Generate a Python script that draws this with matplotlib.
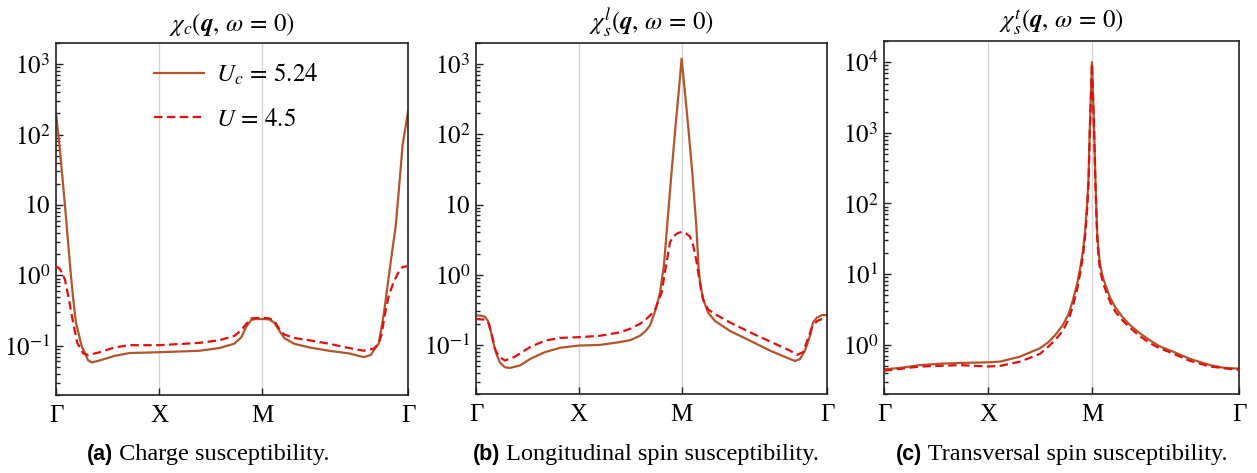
import numpy as np
import matplotlib
matplotlib.use("Agg")
import matplotlib.pyplot as plt
from matplotlib.ticker import FixedLocator, FixedFormatter, LogLocator, NullFormatter

# ---------------- data ----------------
path_labels = ["Γ", "X", "M", "Γ"]
path_ticks = [0.0, 1.0, 2.0, 2.0 + np.sqrt(2.0)]

# (a) charge susceptibility
k_c_Uc = [0.0, 0.039, 0.087, 0.142, 0.167, 0.193, 0.248, 0.312, 0.348, 0.425, 0.570, 0.715,
          1.0, 1.391, 1.585, 1.729, 1.797, 1.845, 1.894, 1.942, 2.0, 2.068, 2.116, 2.164,
          2.213, 2.309, 2.454, 2.647, 2.841, 2.986, 3.053, 3.101, 3.130, 3.179, 3.227,
          3.266, 3.295, 3.333, 3.362, 3.414]
chi_c_Uc = [200, 59, 9.8, 1.10, 0.46, 0.214, 0.100, 0.062, 0.058, 0.062, 0.072, 0.079,
            0.081, 0.085, 0.093, 0.107, 0.132, 0.186, 0.234, 0.240, 0.240, 0.237, 0.214, 0.166,
            0.129, 0.107, 0.095, 0.085, 0.078, 0.069, 0.074, 0.095, 0.107, 0.28, 0.95,
            2.5, 5.0, 22, 71, 210]
k_c_U = [0.0, 0.039, 0.087, 0.126, 0.167, 0.206, 0.264, 0.312, 0.425, 0.570, 0.715, 1.0,
         1.391, 1.585, 1.729, 1.797, 1.845, 1.894, 2.0, 2.068, 2.116, 2.164, 2.213, 2.309,
         2.454, 2.647, 2.841, 2.986, 3.082, 3.130, 3.159, 3.188, 3.227, 3.275, 3.324, 3.362,
         3.414]
chi_c_U = [1.35, 1.23, 0.87, 0.45, 0.21, 0.110, 0.078, 0.074, 0.081, 0.095, 0.102, 0.102,
           0.110, 0.120, 0.138, 0.166, 0.204, 0.245, 0.251, 0.245, 0.229, 0.174, 0.145, 0.129,
           0.120, 0.107, 0.093, 0.085, 0.091, 0.107, 0.148, 0.27, 0.51, 0.81, 1.12, 1.32,
           1.35]

# (b) longitudinal spin susceptibility
k_l_Uc = [0.0, 0.039, 0.088, 0.117, 0.146, 0.175, 0.204, 0.233, 0.282, 0.331, 0.428, 0.525,
          0.671, 0.817, 1.0, 1.206, 1.401, 1.5, 1.595, 1.65, 1.693, 1.751, 1.790, 1.829,
          1.868, 1.907, 1.946, 1.975, 2.0, 2.032, 2.065, 2.104, 2.143, 2.165, 2.179, 2.208,
          2.257, 2.325, 2.471, 2.665, 2.860, 3.054, 3.103, 3.152, 3.200, 3.249, 3.278, 3.317,
          3.366, 3.414]
chi_l_Uc = [0.263, 0.263, 0.251, 0.219, 0.151, 0.098, 0.071, 0.056, 0.048, 0.047, 0.051, 0.063,
            0.079, 0.091, 0.098, 0.100, 0.110, 0.117, 0.135, 0.158, 0.19, 0.33, 0.56, 1.41,
            7.1, 35, 160, 450, 1200, 400, 126, 28, 5.0, 1.26, 0.78, 0.45,
            0.29, 0.219, 0.158, 0.115, 0.083, 0.063, 0.059, 0.063, 0.083, 0.135, 0.209, 0.245,
            0.266, 0.266]
k_l_U = [0.0, 0.088, 0.126, 0.156, 0.185, 0.224, 0.282, 0.379, 0.525, 0.671, 0.817, 1.0,
         1.206, 1.401, 1.5, 1.595, 1.65, 1.693, 1.741, 1.806, 1.838, 1.887, 1.919, 1.96,
         2.0, 2.04, 2.081, 2.113, 2.143, 2.165, 2.208, 2.257, 2.325, 2.471, 2.665, 2.860,
         3.054, 3.122, 3.181, 3.230, 3.268, 3.317, 3.366, 3.414]
chi_l_U = [0.234, 0.229, 0.20, 0.135, 0.087, 0.068, 0.060, 0.068, 0.093, 0.115, 0.126, 0.129,
           0.135, 0.151, 0.17, 0.20, 0.229, 0.263, 0.316, 0.56, 1.10, 2.9, 3.5, 3.9,
           4.07, 3.9, 3.5, 2.6, 1.6, 1.0, 0.45, 0.32, 0.275, 0.209, 0.151, 0.112,
           0.083, 0.072, 0.079, 0.123, 0.178, 0.219, 0.234, 0.234]

# (c) transversal spin susceptibility
k_t_Uc = [0.0, 0.154, 0.346, 0.538, 0.731, 1.0, 1.115, 1.308, 1.5, 1.577, 1.644, 1.721,
          1.779, 1.817, 1.856, 1.885, 1.913, 1.933, 1.952, 1.967, 1.978, 1.989, 2.0,
          2.011, 2.022, 2.033, 2.05, 2.065, 2.08, 2.095, 2.11, 2.148, 2.176, 2.224, 2.29,
          2.365, 2.46, 2.558, 2.65, 2.75, 2.942, 3.135, 3.279, 3.414]
chi_t_Uc = [0.447, 0.468, 0.513, 0.537, 0.55, 0.562, 0.575, 0.676, 0.89, 1.07, 1.35, 1.9,
            2.8, 4.3, 7.1, 11.7, 21, 39, 89, 224, 1000, 3160, 10000,
            3160, 1000, 224, 40, 20, 13.2, 10.5, 8.5, 5.9, 4.6, 3.4, 2.5,
            1.9, 1.45, 1.15, 0.95, 0.83, 0.63, 0.513, 0.468, 0.457]
k_t_U = [0.0, 0.346, 0.731, 1.0, 1.115, 1.308, 1.5, 1.577, 1.644, 1.721, 1.779, 1.817,
         1.856, 1.885, 1.913, 1.933, 1.952, 1.967, 1.978, 1.989, 2.0,
         2.011, 2.022, 2.033, 2.05, 2.065, 2.08, 2.095, 2.11, 2.148, 2.176, 2.224, 2.29,
         2.365, 2.46, 2.558, 2.65, 2.75, 2.942, 3.135, 3.414]
chi_t_U = [0.427, 0.49, 0.513, 0.49, 0.50, 0.575, 0.74, 0.93, 1.15, 1.58, 2.35, 3.55,
           5.9, 10, 17.8, 33, 76, 190, 890, 2820, 9500,
           2820, 890, 190, 33, 16.6, 11, 8.9, 7.2, 5.1, 4.0, 2.95, 2.24,
           1.74, 1.32, 1.05, 0.89, 0.78, 0.59, 0.49, 0.437]

legend_labels = [r"$U_c\,=\,5.24$", r"$U\,=\,4.5$"]
titles = [r"$\chi_c(\boldsymbol{q},\,\omega\,=\,0)$",
          r"$\chi_s^l(\boldsymbol{q},\,\omega\,=\,0)$",
          r"$\chi_s^t(\boldsymbol{q},\,\omega\,=\,0)$"]
caption_tags = ["(a)", "(b)", "(c)"]
caption_texts = [" Charge susceptibility.", " Longitudinal spin susceptibility.",
                 " Transversal spin susceptibility."]
ytick_vals_ab = [0.1, 1, 10, 100, 1000]
ytick_labels_ab = [r"$10^{-1}$", r"$10^{0}$", r"$10$", r"$10^{2}$", r"$10^{3}$"]
ytick_vals_c = [1, 10, 100, 1000, 10000]
ytick_labels_c = [r"$10^{0}$", r"$10^{1}$", r"$10^{2}$", r"$10^{3}$", r"$10^{4}$"]

# ---------------- style ----------------
plt.rcParams["font.family"] = ["Liberation Serif", "DejaVu Serif"]
plt.rcParams["mathtext.fontset"] = "stix"
FS = 18
c_solid = "#b0562a"
c_dash = "#e01010"

W, H = 1257, 473
fig = plt.figure(figsize=(W / 100, H / 100), dpi=100)

def px_axes(l, r, t, b):
    return fig.add_axes([l / W, 1 - b / H, (r - l) / W, (b - t) / H])

axes = [px_axes(56, 408, 43, 395), px_axes(476, 827, 43, 394), px_axes(884, 1239, 41, 394)]
series = [(k_c_Uc, chi_c_Uc, k_c_U, chi_c_U),
          (k_l_Uc, chi_l_Uc, k_l_U, chi_l_U),
          (k_t_Uc, chi_t_Uc, k_t_U, chi_t_U)]
ylims = [(0.02, 2000), (0.02, 2000), (0.2, 20000)]
yticks = [(ytick_vals_ab, ytick_labels_ab), (ytick_vals_ab, ytick_labels_ab),
          (ytick_vals_c, ytick_labels_c)]

for i, ax in enumerate(axes):
    k1, v1, k2, v2 = series[i]
    for xv in path_ticks[1:3]:
        ax.axvline(xv, color="#d4d4d4", lw=1.0, zorder=0)
    ax.plot(k1, v1, color=c_solid, lw=1.6, label=legend_labels[0], zorder=2)
    ax.plot(k2, v2, color=c_dash, lw=1.6, dashes=(3.8, 2.0), label=legend_labels[1], zorder=3)
    ax.set_yscale("log")
    ax.set_ylim(*ylims[i])
    ax.set_xlim(path_ticks[0], path_ticks[-1])
    ax.yaxis.set_major_locator(FixedLocator(yticks[i][0]))
    ax.yaxis.set_major_formatter(FixedFormatter(yticks[i][1]))
    ax.yaxis.set_minor_locator(LogLocator(base=10, subs=np.arange(2, 10), numticks=20))
    ax.yaxis.set_minor_formatter(NullFormatter())
    ax.set_xticks(path_ticks)
    ax.set_xticklabels(path_labels)
    ax.tick_params(axis="both", which="both", direction="in", top=False, right=False,
                   labelsize=FS, color="#222222", width=1.0)
    ax.tick_params(axis="y", which="major", length=5, pad=4)
    ax.tick_params(axis="y", which="minor", length=3)
    ax.tick_params(axis="x", which="major", length=5, pad=7)
    for sp in ax.spines.values():
        sp.set_linewidth(1.2)
        sp.set_color("#222222")
    ax.set_title(titles[i], fontsize=FS, pad=9)

leg = axes[0].legend(loc="upper left", bbox_to_anchor=(0.25, 0.975), frameon=False,
                     fontsize=FS, handlelength=2.0, handletextpad=0.5, labelspacing=0.85,
                     borderaxespad=0.0)

# captions
caption_centers = [208, 646, 1062]
cap_y = 1 - 460 / H
fig.canvas.draw()
r = fig.canvas.get_renderer()
for cx, tag, txt in zip(caption_centers, caption_tags, caption_texts):
    t1 = fig.text(0, cap_y, tag, fontsize=15.5, fontweight="bold",
                  family=["Liberation Sans", "DejaVu Sans"], va="baseline", ha="left")
    t2 = fig.text(0, cap_y, txt, fontsize=17.5, va="baseline", ha="left")
    w1 = t1.get_window_extent(r).width
    w2 = t2.get_window_extent(r).width
    x0 = cx - (w1 + w2) / 2
    t1.set_x(x0 / W)
    t2.set_x((x0 + w1) / W)

fig.savefig("out.png", dpi=100)
